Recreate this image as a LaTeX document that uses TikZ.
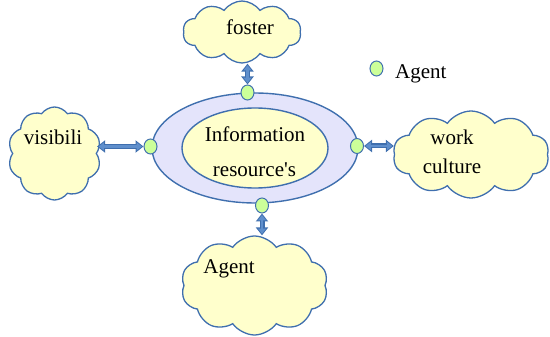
\documentclass[tikz,border=0pt]{standalone}
\usepackage{fontspec}
\setmainfont{Liberation Serif}
\usetikzlibrary{shapes.geometric,shapes.symbols,arrows.meta}
\definecolor{edgeblue}{HTML}{3F6FAE}
\definecolor{cloudfill}{HTML}{FFFFCC}
\definecolor{ringfill}{HTML}{E4E4FB}
\definecolor{agentfill}{HTML}{CCFF99}
\definecolor{arrowfill}{HTML}{5F8FCC}

\begin{document}
\begin{tikzpicture}[x=1pt,y=-1pt,
  puff/.style={cloud, cloud puffs=10, cloud puff arc=110, cloud ignores aspect,
    draw=edgeblue, line width=1.3pt, fill=cloudfill, inner sep=0pt},
  agentdot/.style={ellipse, draw=edgeblue, line width=1pt, fill=agentfill,
    minimum width=13pt, minimum height=15pt, inner sep=0pt},
  lbl/.style={font=\fontsize{21}{25}\selectfont, anchor=base, inner sep=0pt},
  % block double arrow: dark outline pass, then lighter body pass
  linkedge/.style={draw=edgeblue, line width=5pt,
    {Triangle[length=8pt,width=12pt]}-{Triangle[length=8pt,width=12pt]}},
  linkbody/.style={draw=arrowfill, line width=2.4pt, shorten <=1.6pt, shorten >=1.6pt,
    {Triangle[length=5.2pt,width=7.8pt]}-{Triangle[length=5.2pt,width=7.8pt]}}
]
\useasboundingbox (0,0) rectangle (550,337);

% central resource
\node[ellipse, draw=edgeblue, line width=1.4pt, fill=ringfill,
  minimum width=206pt, minimum height=110pt] (ring) at (255,148) {};
\node[ellipse, draw=edgeblue, line width=1.4pt, fill=cloudfill,
  minimum width=146pt, minimum height=80pt] (core) at (255,148) {};

% surrounding clouds
\node[puff, minimum width=118pt, minimum height=62pt] (foster) at (242,32) {};
\node[puff, minimum width=93pt, minimum height=93pt] (vis) at (54.5,153.5) {};
\node[puff, minimum width=156pt, minimum height=87pt] (work) at (471,154.5) {};
\node[puff, minimum width=147pt, minimum height=99pt] (agentc) at (254.5,285.5) {};

% agents on the ring
\node[agentdot] (dtop) at (247.5,92.5) {};
\node[agentdot] (dleft) at (150.5,146.5) {};
\node[agentdot] (dright) at (357,146) {};
\node[agentdot] (dbot) at (262,205.5) {};
\node[agentdot] (dkey) at (376.5,68.5) {};

% links between agents and clouds
\foreach \s in {linkedge,linkbody}{
  \draw[\s] (dtop.north) -- (dtop.north |- foster.south);
  \draw[\s] (dleft.west) -- (dleft.west -| vis.east);
  \draw[\s] (dright.east) -- (dright.east -| work.west);
  \draw[\s] (dbot.south) -- (dbot.south |- agentc.north);
}

% labels
\node[lbl] (t1) at (255,142) {Information};
\node[lbl] (t2) at (254.5,177) {resource\textquotesingle s};
\node[lbl] (tf) at (250,35) {foster};
\node[lbl] (tv) at (53,145) {visibili};
\node[lbl] (tw1) at (452,145) {work};
\node[lbl] (tw2) at (452,174) {culture};
\node[lbl] (ta) at (229,273) {Agent};
\node[lbl, anchor=base west] (tk) at (395,79) {Agent};
\end{tikzpicture}
\end{document}
